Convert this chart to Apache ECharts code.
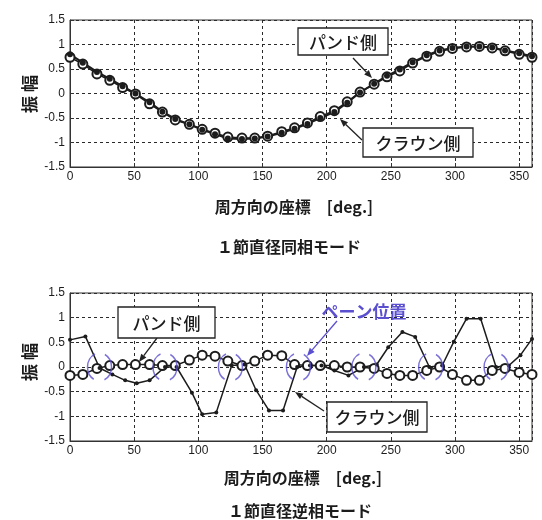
<!DOCTYPE html>
<html>
<head>
<meta charset="utf-8">
<script src="https://cdn.jsdelivr.net/npm/echarts@6/dist/echarts.min.js"></script>
<style>
  html, body { margin: 0; background: #fff; }
  #chart { width: 542px; height: 520px; }
</style>
</head>
<body>
<div id="chart"></div>
<script>
// angles (deg)
const angles = [0, 10, 21, 31, 41, 51, 62, 72, 82, 93, 103, 113, 123, 134, 144, 154, 165, 175,
  185, 195, 206, 216, 226, 237, 247, 257, 267, 278, 288, 298, 309, 319, 329, 339, 350, 360];

// upper chart: in-phase mode
const bandTop = [0.80, 0.63, 0.44, 0.30, 0.15, 0.00, -0.18, -0.37, -0.52, -0.63, -0.74, -0.83,
  -0.92, -0.93, -0.92, -0.88, -0.80, -0.72, -0.62, -0.50, -0.38, -0.19, 0.02, 0.20, 0.36, 0.49,
  0.64, 0.78, 0.88, 0.93, 0.96, 0.96, 0.94, 0.88, 0.82, 0.76];
const crownTop = [0.74, 0.60, 0.40, 0.27, 0.12, -0.01, -0.21, -0.38, -0.54, -0.63, -0.73, -0.81,
  -0.89, -0.91, -0.91, -0.87, -0.78, -0.70, -0.60, -0.47, -0.35, -0.17, 0.03, 0.19, 0.34, 0.46,
  0.62, 0.76, 0.86, 0.92, 0.95, 0.96, 0.93, 0.87, 0.80, 0.74];

// lower chart: anti-phase mode
const bandBottom = [-0.17, -0.15, -0.03, 0.03, 0.05, 0.05, 0.05, 0.03, 0.03, 0.14, 0.24, 0.22,
  0.12, 0.03, 0.12, 0.24, 0.23, 0.05, 0.03, 0.03, 0.03, 0.00, 0.00, -0.03, -0.13, -0.17, -0.17,
  -0.07, 0.00, -0.15, -0.27, -0.27, -0.07, -0.03, -0.11, -0.15];
const crownAngles = [0, 12, 23, 33, 43, 52, 62, 74, 83, 95, 103, 114, 126, 136, 145, 155, 166, 177,
  187, 196, 206, 217, 229, 239, 248, 259, 269, 280, 290, 299, 309, 320, 332, 342, 351, 360];
const crownBottom = [0.55, 0.62, -0.02, -0.15, -0.27, -0.33, -0.27, 0.00, 0.00, -0.52, -0.96, -0.92,
  0.03, 0.05, -0.47, -0.88, -0.88, 0.00, 0.03, 0.03, -0.07, -0.17, 0.00, 0.05, 0.40, 0.71, 0.61,
  0.00, 0.03, 0.51, 0.98, 0.98, 0.00, 0.03, 0.24, 0.57];

// vane positions (dashed ellipses)
const vaneAngles = [23, 74, 125, 178, 229, 281, 332];

const xTicks = [0, 50, 100, 150, 200, 250, 300, 350];
const yTicks = [-1.5, -1, -0.5, 0, 0.5, 1, 1.5];

const ink = '#1c1c1c';
const vaneColor = '#5a4fcf';
const jp = '"Noto Sans CJK JP", sans-serif';
const numFont = '"Liberation Sans Narrow", "Liberation Sans", sans-serif';

function pairs(xs, ys) {
  return xs.map((x, i) => [x, ys[i]]);
}

function xAxis(gridIndex) {
  return {
    type: 'value', gridIndex: gridIndex,
    min: xTicks[0], max: 360, interval: 50,
    axisLine: { show: true, onZero: false, lineStyle: { color: '#333', width: 1 } },
    axisTick: { show: true, inside: true, length: 4, lineStyle: { color: '#333' } },
    axisLabel: { color: ink, fontSize: 12, fontFamily: numFont, margin: 4, showMaxLabel: false },
    splitLine: { show: true, lineStyle: { color: '#2a2a2a', type: [3, 3], width: 1 } }
  };
}

function yAxis(gridIndex) {
  return {
    type: 'value', gridIndex: gridIndex,
    min: yTicks[0], max: yTicks[yTicks.length - 1], interval: 0.5,
    axisLine: { show: true, onZero: false, lineStyle: { color: '#333', width: 1 } },
    axisTick: { show: true, inside: true, length: 4, lineStyle: { color: '#333' } },
    axisLabel: { color: ink, fontSize: 12, fontFamily: numFont, margin: 5 },
    splitLine: { show: true, lineStyle: { color: '#2a2a2a', type: [3, 3], width: 1 } }
  };
}

function arrow(x1, y1, x2, y2, color) {
  const a = Math.atan2(y2 - y1, x2 - x1);
  const len = 8, w = 3.2;
  const bx = x2 - len * Math.cos(a), by = y2 - len * Math.sin(a);
  return [
    { type: 'line', shape: { x1: x1, y1: y1, x2: bx, y2: by },
      style: { stroke: color, lineWidth: 1.3 }, z: 100 },
    { type: 'polygon', shape: { points: [[x2, y2],
        [bx + w * Math.sin(a), by - w * Math.cos(a)],
        [bx - w * Math.sin(a), by + w * Math.cos(a)]] },
      style: { fill: color }, z: 100 }
  ];
}

function box(x, y, w, h, text) {
  return [
    { type: 'rect', shape: { x: x, y: y, width: w, height: h },
      style: { fill: '#fff', stroke: '#222', lineWidth: 1.3 }, z: 100 },
    { type: 'text', x: x + w / 2, y: y + h / 2 + 1, z: 101,
      style: { text: text, fill: ink, font: '500 17px ' + jp, textAlign: 'center', textVerticalAlign: 'middle' } }
  ];
}

function label(x, y, text, size, rot) {
  return { type: 'text', x: x, y: y, rotation: rot || 0, z: 101,
    style: { text: text, fill: ink, font: 'bold ' + size + 'px ' + jp, textAlign: 'center', textVerticalAlign: 'middle' } };
}

const chart = echarts.init(document.getElementById('chart'));

const graphics = [].concat(
  label(30, 94, '振 幅', 17, Math.PI / 2),
  label(30, 362, '振 幅', 17, Math.PI / 2),
  label(294, 207, '周方向の座標　[deg.]', 16),
  label(289, 247, '１節直径同相モード', 16),
  label(303, 478, '周方向の座標　[deg.]', 16),
  label(300, 511, '１節直径逆相モード', 16),
  arrow(353, 58, 372, 78, '#222'),
  box(298, 28, 90, 27, 'パンド側'),
  arrow(362, 140, 340, 119, '#222'),
  box(363, 128, 110, 29, 'クラウン側'),
  arrow(157, 338, 139, 362, '#222'),
  box(118, 307, 97, 31, 'パンド側'),
  arrow(324, 411, 295, 392, '#222'),
  box(327, 402, 100, 30, 'クラウン側'),
  arrow(337, 321, 307, 356, vaneColor),
  [{ type: 'text', x: 364, y: 312, z: 101,
     style: { text: 'ペーン位置', fill: vaneColor, font: 'bold 17px ' + jp, textAlign: 'center', textVerticalAlign: 'middle' } }]
);

chart.setOption({
  animation: false,
  backgroundColor: '#fff',
  grid: [
    { left: 70, top: 20, width: 462, height: 147, show: true, borderColor: '#333', borderWidth: 1 },
    { left: 70, top: 293, width: 462, height: 148, show: true, borderColor: '#333', borderWidth: 1 }
  ],
  xAxis: [xAxis(0), xAxis(1)],
  yAxis: [yAxis(0), yAxis(1)],
  series: [
    {
      name: 'クラウン側', type: 'line', xAxisIndex: 0, yAxisIndex: 0,
      data: pairs(angles, crownTop),
      symbol: 'emptyCircle', symbolSize: 9,
      lineStyle: { color: ink, width: 1.6 },
      itemStyle: { color: ink, borderColor: ink, borderWidth: 1.5 }
    },
    {
      name: 'パンド側', type: 'line', xAxisIndex: 0, yAxisIndex: 0,
      data: pairs(angles, bandTop),
      symbol: 'circle', symbolSize: 6,
      lineStyle: { color: ink, width: 2 },
      itemStyle: { color: ink }
    },
    {
      name: 'パンド側', type: 'line', xAxisIndex: 1, yAxisIndex: 1,
      data: pairs(angles, bandBottom),
      symbol: 'emptyCircle', symbolSize: 9,
      lineStyle: { color: ink, width: 1.5 },
      itemStyle: { color: ink, borderColor: ink, borderWidth: 1.5 }
    },
    {
      name: 'クラウン側', type: 'line', xAxisIndex: 1, yAxisIndex: 1,
      data: pairs(crownAngles, crownBottom),
      symbol: 'circle', symbolSize: 4,
      lineStyle: { color: ink, width: 1.5 },
      itemStyle: { color: ink }
    },
    {
      name: 'ペーン位置', type: 'scatter', xAxisIndex: 1, yAxisIndex: 1,
      data: vaneAngles.map(a => [a, 0]),
      symbol: 'path://M0,-1A1,1 0 1,1 0,1A1,1 0 1,1 0,-1Z',
      symbolSize: [24, 28],
      z: 5,
      itemStyle: { color: 'rgba(0,0,0,0)', borderColor: vaneColor, borderWidth: 1.6,
        borderType: [29, 12], borderDashOffset: 35 }
    }
  ],
  graphic: graphics
});
</script>
</body>
</html>
